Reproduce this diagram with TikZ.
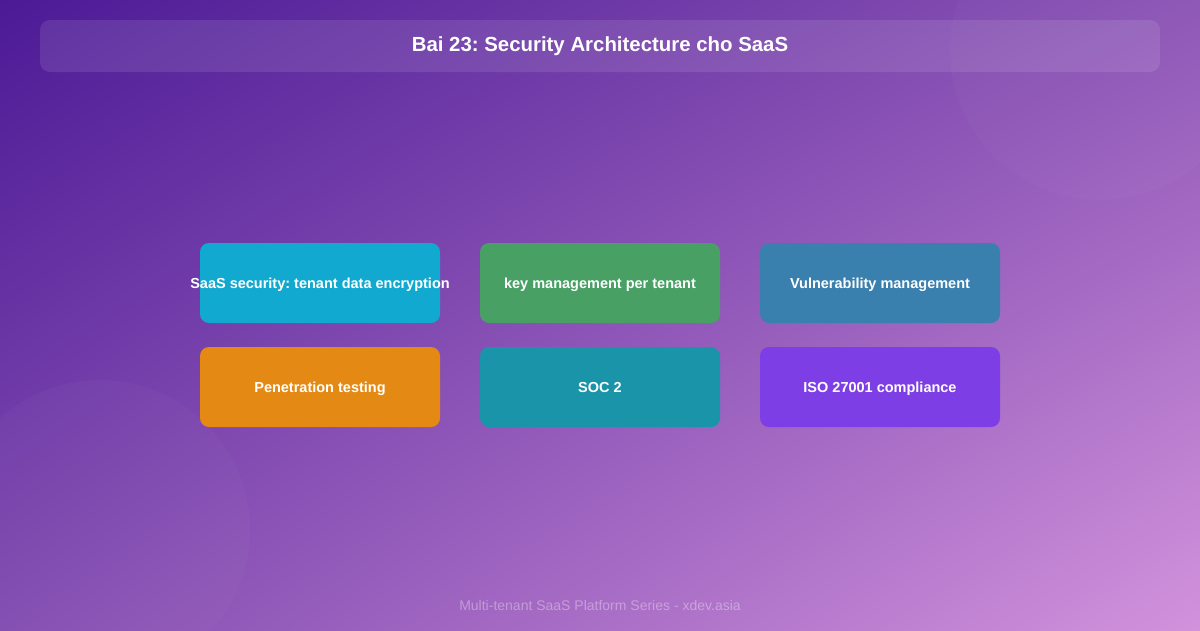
\documentclass[tikz,border=0pt]{standalone}
\usepackage{fontspec}
\setmainfont{Liberation Sans}
\usetikzlibrary{positioning,shadings}
\frenchspacing
\definecolor{bgA}{HTML}{4C1A96}
\definecolor{bgB}{HTML}{8C55B6}
\definecolor{bgC}{HTML}{D292DC}
\definecolor{cA}{HTML}{12A9D0}
\definecolor{cB}{HTML}{48A065}
\definecolor{cC}{HTML}{3A80AE}
\definecolor{cD}{HTML}{E48A14}
\definecolor{cE}{HTML}{1A94A8}
\definecolor{cF}{HTML}{7E3EE6}
\tikzset{
  cardbg/.style={rounded corners=9pt},
  card/.style={shape=rectangle, minimum width=240pt, minimum height=80pt, inner sep=0pt,
    text=white, font=\bfseries\fontsize{14.5}{16}\selectfont},
}
\newcommand\cardtxt[1]{\makebox[0pt]{\raisebox{-5pt}[0pt][0pt]{#1}}}
\begin{document}
\begin{tikzpicture}[x=1pt,y=-1pt]
\useasboundingbox (0,0) rectangle (1200,630);
\shade[upper left=bgA, upper right=bgB, lower left=bgB!85!bgA, lower right=bgC] (0,0) rectangle (1200,630);
\fill[white, opacity=0.022] (100,530) circle[radius=150];
\fill[white, opacity=0.022] (1100,50) circle[radius=150];
\fill[white, opacity=0.1, rounded corners=10pt] (40,20) rectangle (1160,72);
\node[text=white, font=\bfseries\fontsize{20.4}{22}\selectfont] (title) at (600,46) {Bai 23: Security Architecture cho SaaS};
\fill[cardbg, cA] (200,243) rectangle (440,323);
\fill[cardbg, cB] (480,243) rectangle (720,323);
\fill[cardbg, cC] (760,243) rectangle (1000,323);
\fill[cardbg, cD] (200,347) rectangle (440,427);
\fill[cardbg, cE] (480,347) rectangle (720,427);
\fill[cardbg, cF] (760,347) rectangle (1000,427);
\node[card] (n1) at (320,283) {\cardtxt{SaaS security: tenant data encryption}};
\node[card] (n2) at (600,283) {\cardtxt{key management per tenant}};
\node[card] (n3) at (880,283) {\cardtxt{Vulnerability management}};
\node[card] (n4) at (320,387) {\cardtxt{Penetration testing}};
\node[card] (n5) at (600,387) {\cardtxt{SOC 2}};
\node[card] (n6) at (880,387) {\cardtxt{ISO 27001 compliance}};
\node[text=white, text opacity=0.35, font=\fontsize{14}{16}\selectfont] (foot) at (600,605) {Multi-tenant SaaS Platform Series - xdev.asia};
\end{tikzpicture}
\end{document}
